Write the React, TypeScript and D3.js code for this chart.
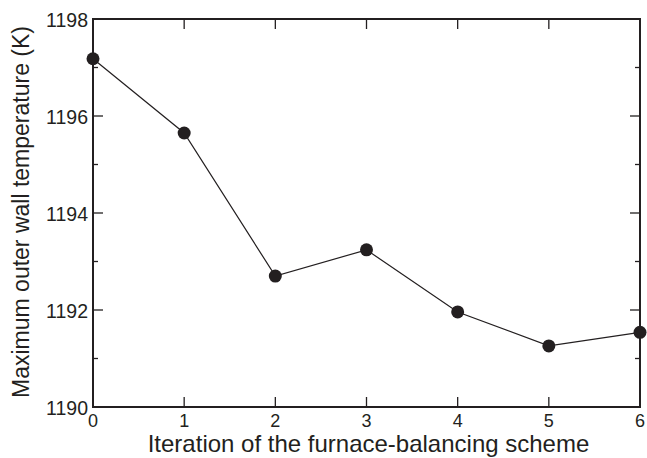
import React from "react";
import * as d3 from "d3";

const iterations = [0, 1, 2, 3, 4, 5, 6];
const temperatures = [1197.18, 1195.65, 1192.7, 1193.24, 1191.96, 1191.26, 1191.54];
const yMajorTicks = [1190, 1192, 1194, 1196, 1198];
const yMinorTicks = [1191, 1193, 1195, 1197];
const xTitle = "Iteration of the furnace-balancing scheme";
const yTitle = "Maximum outer wall temperature (K)";

export default function App() {
  const W = 647, H = 458;
  const left = 93, right = 640, top = 19, bottom = 407;
  const x = d3.scaleLinear().domain([0, 6]).range([left, right]);
  const y = d3.scaleLinear().domain([1190, 1198]).range([bottom, top]);
  const line = d3.line<number>().x((_, i) => x(iterations[i])).y((d) => y(d));
  const font = "'Liberation Sans', Arial, Helvetica, sans-serif";
  const major = 10, minor = 5;
  return (
    <svg width={W} height={H} style={{ position: "absolute", left: 0, top: 0 }}>
      <rect width={W} height={H} fill="#fff" />
      {iterations.map((v) => (
        <g key={"xt" + v}>
          <line x1={x(v)} x2={x(v)} y1={bottom} y2={bottom - major} stroke="#231f20" strokeWidth={1.3} />
          <line x1={x(v)} x2={x(v)} y1={top} y2={top + major} stroke="#231f20" strokeWidth={1.3} />
          <text x={x(v)} y={427} textAnchor="middle" fontFamily={font} fontSize={18} fill="#231f20">{v}</text>
        </g>
      ))}
      {yMajorTicks.map((v) => (
        <g key={"ym" + v}>
          <line x1={left} x2={left + major} y1={y(v)} y2={y(v)} stroke="#231f20" strokeWidth={1.3} />
          <line x1={right} x2={right - major} y1={y(v)} y2={y(v)} stroke="#231f20" strokeWidth={1.3} />
          <text x={88} y={y(v) + 7.5} textAnchor="end" fontFamily={font} fontSize={19.5} fill="#231f20">{v}</text>
        </g>
      ))}
      {yMinorTicks.map((v) => (
        <g key={"yn" + v}>
          <line x1={left} x2={left + minor} y1={y(v)} y2={y(v)} stroke="#231f20" strokeWidth={1.3} />
          <line x1={right} x2={right - minor} y1={y(v)} y2={y(v)} stroke="#231f20" strokeWidth={1.3} />
        </g>
      ))}
      <rect x={left} y={top} width={right - left} height={bottom - top} fill="none" stroke="#231f20" strokeWidth={2} />
      <path d={line(temperatures) || ""} fill="none" stroke="#231f20" strokeWidth={1.2} />
      {temperatures.map((t, i) => (
        <circle key={"p" + i} cx={x(iterations[i])} cy={y(t)} r={6.5} fill="#231f20" />
      ))}
      <text x={368.5} y={452} textAnchor="middle" fontFamily={font} fontSize={24} fill="#231f20">{xTitle}</text>
      <text transform={`translate(29, 212) rotate(-90)`} textAnchor="middle" fontFamily={font} fontSize={23} fill="#231f20">{yTitle}</text>
    </svg>
  );
}
